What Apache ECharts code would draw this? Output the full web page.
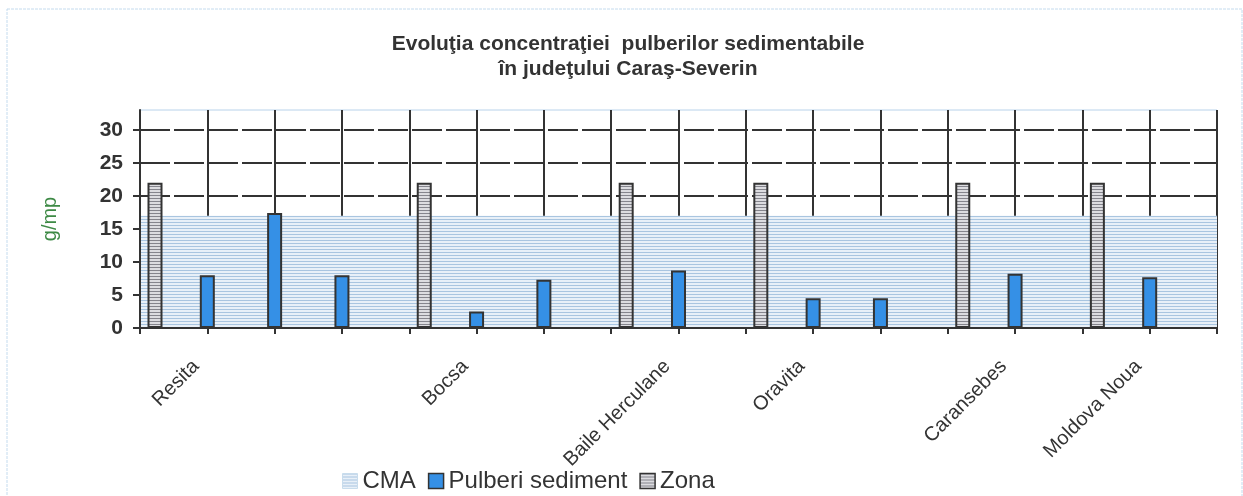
<!DOCTYPE html>
<html>
<head>
<meta charset="utf-8">
<script src="https://cdn.jsdelivr.net/npm/echarts@6/dist/echarts.min.js"></script>
<style>
  html, body { margin: 0; padding: 0; background: #fff; }
  #chart { width: 1243px; height: 496px; }
</style>
</head>
<body>
<div id="chart"></div>
<script>
// categories: one slot per vertical grid line, only some carry a place name
const categories = ['', 'Resita', '', '', '', 'Bocsa', '', '', 'Baile Herculane', '',
  'Oravita', '', '', 'Caransebes', '', 'Moldova Noua', '']
const cma = [17, 17, 17, 17, 17, 17, 17, 17, 17, 17, 17, 17, 17, 17, 17, 17, 17]
const pulberi = ['-', 8, 17.4, 8, '-', 2.5, 7.3, '-', 8.7, '-', 4.5, 4.5, '-', 8.2, '-', 7.7, '-']
const zona = [22, '-', '-', '-', 22, '-', '-', 22, '-', 22, '-', '-', 22, '-', 22, '-', '-']
const yTickValues = [0, 5, 10, 15, 20, 25, 30]
const yMax = 33

const font = '"Liberation Sans", Arial, sans-serif'
const dark = '#333'

function stripes(w, h, bg, line) {
  const c = document.createElement('canvas')
  c.width = w
  c.height = h
  const ctx = c.getContext('2d')
  ctx.fillStyle = bg
  ctx.fillRect(0, 0, w, h)
  ctx.fillStyle = line
  ctx.fillRect(0, 0, w, 1)
  return { image: c, repeat: 'repeat' }
}

const cmaFill = stripes(4, 3, '#e8f0f8', '#a9c5e0')
const zonaFill = stripes(4, 3, '#dcdce0', '#85858d')

const chart = echarts.init(document.getElementById('chart'))
chart.setOption({
  animation: false,
  title: {
    text: 'Evoluţia concentraţiei  pulberilor sedimentabile\nîn judeţului Caraş-Severin',
    left: 623,
    top: 27,
    textAlign: 'center',
    textStyle: { fontFamily: font, fontSize: 21, fontWeight: 'bold', color: dark, lineHeight: 25 },
  },
  legend: {
    left: 337,
    top: 464,
    icon: 'rect',
    itemWidth: 15,
    itemHeight: 15,
    itemGap: 12,
    textStyle: { fontFamily: font, fontSize: 24, color: dark },
    data: [
      { name: 'CMA', itemStyle: { color: cmaFill, borderColor: '#c8dcec', borderWidth: 1 } },
      { name: 'Pulberi sediment', itemStyle: { color: '#3590e6', borderColor: dark, borderWidth: 1.5 } },
      { name: 'Zona', itemStyle: { color: zonaFill, borderColor: dark, borderWidth: 1.5 } },
    ],
  },
  grid: {
    left: 140,
    right: 26,
    top: 110,
    bottom: 168,
    show: true,
    borderColor: '#b8d2ea',
    borderWidth: 1,
  },
  graphic: [{
    type: 'rect',
    shape: { x: 7, y: 9, width: 1235, height: 500 },
    style: { fill: null, stroke: '#c4dbee', lineWidth: 1, lineDash: [3, 1] },
    silent: true,
  }],
  xAxis: [{
    type: 'category',
    data: categories,
    boundaryGap: false,
    z: 10,
    axisLine: { lineStyle: { color: dark, width: 2 } },
    axisTick: { show: true, interval: 0, length: 6, lineStyle: { color: dark, width: 2 } },
    axisLabel: {
      interval: 0, rotate: 45, margin: 24, padding: [0, 16, 0, 0],
      fontFamily: font, fontSize: 20, color: dark,
    },
    splitLine: { show: false },
  }, {
    type: 'category',
    data: categories,
    boundaryGap: false,
    z: 0,
    axisLine: { show: false },
    axisTick: { show: false },
    axisLabel: { show: false },
    splitLine: { show: true, interval: 0, lineStyle: { color: dark, width: 2 } },
  }],
  yAxis: [{
    type: 'value',
    min: 0,
    max: yMax,
    interval: 5,
    z: 10,
    name: 'g/mp',
    nameLocation: 'middle',
    nameRotate: 90,
    nameGap: 80,
    nameTextStyle: { fontFamily: font, fontSize: 20, color: '#3e8a46' },
    axisLine: { show: true, lineStyle: { color: dark, width: 2 } },
    axisTick: { show: true, length: 7, customValues: yTickValues, lineStyle: { color: dark, width: 2 } },
    axisLabel: {
      customValues: yTickValues,
      fontFamily: font, fontSize: 21, fontWeight: 'bold', color: dark, margin: 17,
    },
    splitLine: { show: false },
  }, {
    type: 'value',
    min: 0,
    max: yMax,
    interval: 5,
    z: 0,
    axisLine: { show: false },
    axisTick: { show: false },
    axisLabel: { show: false },
    splitLine: { show: true, showMaxLine: false, lineStyle: { color: dark, width: 2, type: [30, 4] } },
  }],
  series: [
    {
      name: 'CMA',
      type: 'line',
      data: cma,
      symbol: 'none',
      z: 2,
      lineStyle: { width: 0 },
      itemStyle: { color: '#b3cce3' },
      areaStyle: { color: cmaFill, opacity: 1 },
    },
    {
      // empty slot so that Pulberi sits on the tick and Zona to its right
      name: 'slot',
      type: 'bar',
      data: categories.map(() => '-'),
      barWidth: 15,
      barGap: '0%',
      z: 3,
    },
    {
      name: 'Pulberi sediment',
      type: 'bar',
      data: pulberi,
      barWidth: 15,
      barGap: '0%',
      z: 3,
      itemStyle: { color: '#3590e6', borderColor: dark, borderWidth: 2 },
    },
    {
      name: 'Zona',
      type: 'bar',
      data: zona,
      barWidth: 15,
      barGap: '0%',
      z: 3,
      itemStyle: { color: zonaFill, borderColor: dark, borderWidth: 2 },
    },
  ],
})
</script>
</body>
</html>
